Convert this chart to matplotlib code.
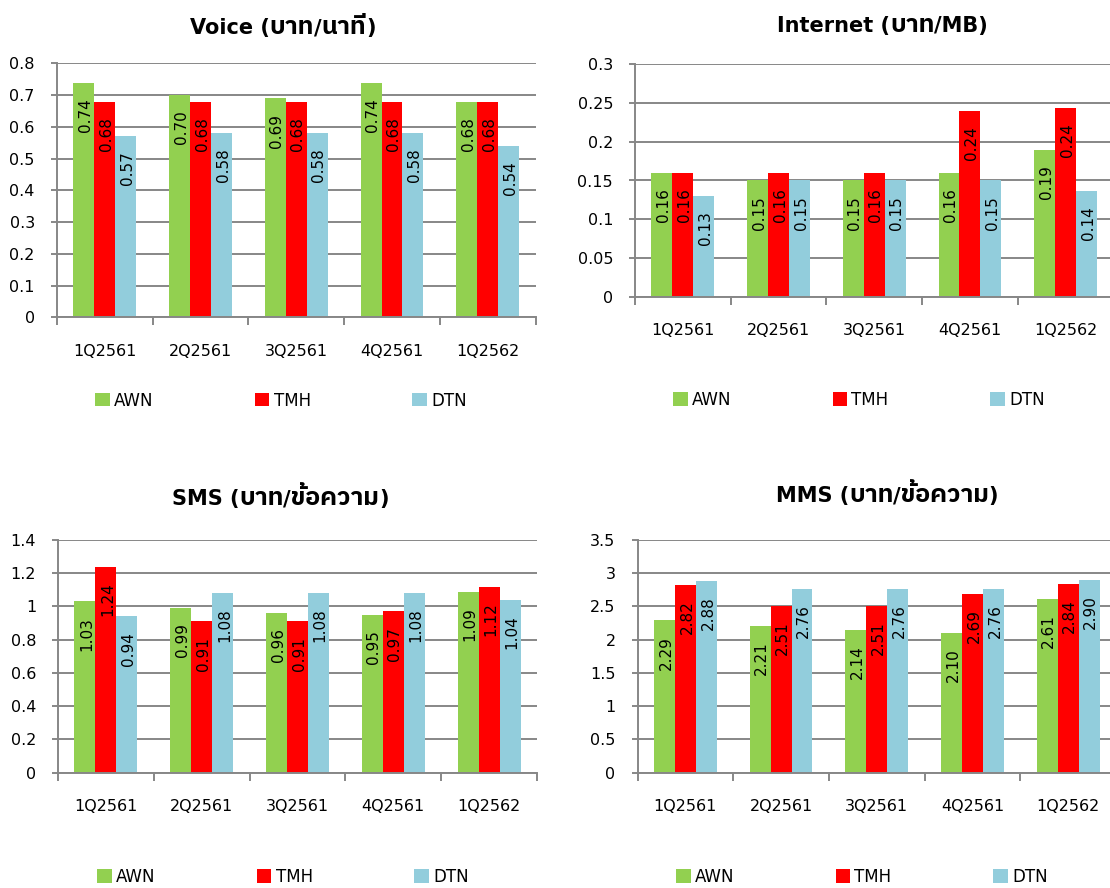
import numpy as np
import matplotlib
matplotlib.use("Agg")
import matplotlib.pyplot as plt
from matplotlib import font_manager
from matplotlib.ft2font import FT2Font
from matplotlib.offsetbox import TextArea, HPacker, AnnotationBbox

# ---- data -------------------------------------------------------------
quarters = ["1Q2561", "2Q2561", "3Q2561", "4Q2561", "1Q2562"]
operators = ["AWN", "TMH", "DTN"]
colors = ["#92D050", "#FF0000", "#92CDDC"]

voice_awn = [0.74, 0.70, 0.69, 0.74, 0.68]
voice_tmh = [0.68, 0.68, 0.68, 0.68, 0.68]
voice_dtn = [0.57, 0.58, 0.58, 0.58, 0.54]

internet_awn = [0.16, 0.15, 0.15, 0.16, 0.19]
internet_tmh = [0.16, 0.16, 0.16, 0.24, 0.244]
internet_dtn = [0.13, 0.15, 0.15, 0.15, 0.136]

sms_awn = [1.03, 0.99, 0.96, 0.95, 1.09]
sms_tmh = [1.24, 0.91, 0.91, 0.97, 1.12]
sms_dtn = [0.94, 1.08, 1.08, 1.08, 1.04]

mms_awn = [2.29, 2.21, 2.14, 2.10, 2.61]
mms_tmh = [2.82, 2.51, 2.51, 2.69, 2.84]
mms_dtn = [2.88, 2.76, 2.76, 2.76, 2.90]

titles = ["Voice (บาท/นาที)", "Internet (บาท/MB)",
          "SMS (บาท/ข้อความ)", "MMS (บาท/ข้อความ)"]


# ---- fonts: Latin face plus any installed face that covers Thai ---------
def thai_family():
    fonts = sorted(font_manager.fontManager.ttflist,
                   key=lambda f: ("thai" not in f.name.lower(),
                                  "looped" in f.name.lower()))
    for f in fonts:
        try:
            cmap = FT2Font(f.fname).get_charmap()
        except Exception:
            continue
        if 0x0E1A in cmap and 0x0E17 in cmap and 0x0E19 in cmap:
            return f.name
    return None


LATIN = "DejaVu Sans"
THAI = thai_family()
families = [LATIN] + ([THAI] if THAI else [])
plt.rcParams["font.family"] = families

GRID = "#878787"
W, H = 1110, 888
fig = plt.figure(figsize=(W / 100, H / 100), dpi=100)
fig.patch.set_facecolor("white")


def is_thai(ch):
    return 0x0E00 <= ord(ch) <= 0x0E7F


def script_runs(s):
    runs = []
    for ch in s:
        t = is_thai(ch)
        if runs and runs[-1][0] == t:
            runs[-1][1] += ch
        else:
            runs.append([t, ch])
    return runs


def draw_title(text, xy):
    # Thai glyphs of the fallback face run small next to DejaVu, so the
    # Thai runs get a larger size to keep the line visually even.
    parts = []
    for thai, run in script_runs(text):
        if thai and THAI:
            props = dict(size=18, weight="bold", family=[THAI],
                         color="black")
        else:
            props = dict(size=15, weight="bold", family=families,
                         color="black")
        parts.append(TextArea(run, textprops=props))
    pack = HPacker(children=parts, align="baseline", pad=0, sep=0)
    ab = AnnotationBbox(pack, (xy[0] / W, 1 - xy[1] / H),
                        xycoords="figure fraction", frameon=False,
                        box_alignment=(0.5, 0.5), pad=0)
    fig.add_artist(ab)


def panel(rect, title, title_xy, series, ymax, ystep, legend_xy):
    left, top, right, bottom = rect
    ax = fig.add_axes([left / W, 1 - bottom / H, (right - left) / W,
                       (bottom - top) / H])
    x = np.arange(len(quarters))
    width = 0.219
    handles = []
    for i, (name, vals, c) in enumerate(zip(operators, series, colors)):
        pos = x + (i - 1) * width
        bars = ax.bar(pos, vals, width, color=c, label=name, zorder=3,
                      linewidth=0)
        handles.append(bars)
        for px, v in zip(pos, vals):
            ax.annotate(f"{v:.2f}", xy=(px, v), xytext=(1.2, -11),
                        textcoords="offset points", rotation=90,
                        ha="center", va="top", fontsize=11, color="black",
                        zorder=4)

    ticks = np.arange(0, ymax + ystep / 2, ystep)
    ax.set_ylim(0, ymax)
    ax.set_yticks(ticks)
    ax.set_yticklabels([f"{t:g}" for t in np.round(ticks, 3)])
    ax.set_xlim(-0.5, len(quarters) - 0.5)
    ax.set_xticks(x)
    ax.set_xticklabels(quarters)
    ax.set_xticks(np.arange(-0.5, len(quarters)), minor=True)

    ax.yaxis.grid(True, color=GRID, linewidth=1.4)
    ax.set_axisbelow(True)
    for s in ("top", "right"):
        ax.spines[s].set_visible(False)
    for s in ("left", "bottom"):
        ax.spines[s].set_color(GRID)
        ax.spines[s].set_linewidth(1.4)
        ax.spines[s].set_zorder(5)

    ax.tick_params(axis="y", length=4.3, width=1.4, color=GRID, pad=11.5,
                   labelsize=11.5, labelcolor="black")
    ax.tick_params(axis="x", which="major", length=0, pad=24.5,
                   labelsize=11.5, labelcolor="black")
    ax.tick_params(axis="x", which="minor", length=5.5, width=1.4,
                   color=GRID)
    for lab in ax.get_xticklabels():
        lab.set_va("center")

    draw_title(title, title_xy)

    ax.legend(handles=handles, loc="center left",
              bbox_to_anchor=(legend_xy[0] / W, 1 - legend_xy[1] / H),
              bbox_transform=fig.transFigure, ncol=3, frameon=False,
              fontsize=12, handlelength=0.87, handleheight=0.87,
              handletextpad=0.25, columnspacing=6.1, borderpad=0,
              borderaxespad=0)
    return ax


panel((56.7, 63.5, 535.7, 317.3), titles[0], (282.5, 27),
      [voice_awn, voice_tmh, voice_dtn], 0.8, 0.1, (95, 400.5))
panel((635, 64.3, 1113.5, 296.7), titles[1], (882.6, 25),
      [internet_awn, internet_tmh, internet_dtn], 0.3, 0.05, (673, 400))
panel((58, 540, 537, 772.7), titles[2], (280, 498),
      [sms_awn, sms_tmh, sms_dtn], 1.4, 0.2, (97, 877))
panel((637.5, 540, 1116, 772.7), titles[3], (887, 495),
      [mms_awn, mms_tmh, mms_dtn], 3.5, 0.5, (676, 877))

fig.savefig("out.png", dpi=100, facecolor="white")
